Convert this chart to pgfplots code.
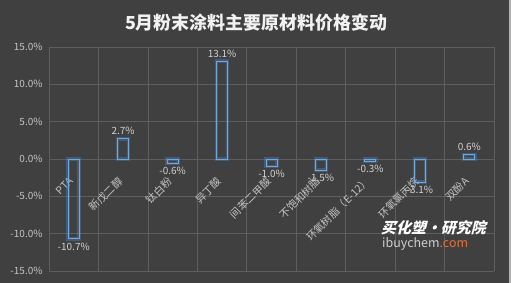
\documentclass[border=0pt]{standalone}
\usepackage{fontspec}
\setmainfont{Noto Sans CJK SC}
\newfontfamily\wmfont{Noto Sans CJK SC}[FakeSlant=0.25]
\usepackage{pgfplots}
\usepackage{pgfplotstable}
\pgfplotsset{compat=1.18}
\definecolor{bgc}{HTML}{404040}
\definecolor{gridc}{HTML}{5E5E5E}
\definecolor{barblue}{HTML}{6FA8DC}
\definecolor{glowblue}{HTML}{4A90D9}
\definecolor{txtc}{HTML}{D0D0D0}
\definecolor{tickc}{HTML}{C4C4C4}
\definecolor{titlec}{HTML}{F2F2F2}
\definecolor{orangec}{HTML}{E8703A}
\pgfplotstableread{
x y
0 -10.7
1 2.7
2 -0.6
3 13.1
4 -1.0
5 -1.5
6 -0.3
7 -3.1
8 0.6
}\data
\begin{document}
\begin{tikzpicture}
\fill[bgc] (0,0) rectangle (511bp,283bp);
\fill[gray!60] (508.5bp,0) rectangle (511bp,283bp);
\begin{axis}[
  at={(49bp,12bp)}, anchor=south west,
  scale only axis, width=445bp, height=224bp,
  xmin=-0.5, xmax=8.5, ymin=-15, ymax=15,
  ytick={-15,-10,...,15},
  xtick={0,...,8},
  minor xtick={-0.5,0.5,...,8.5},
  xticklabels={PTA,新戊二醇,钛白粉,异丁酸,间苯二甲酸,不饱和树脂,环氧树脂（E-12）,环氧氯丙烷,双酚A},
  ymajorgrids, xminorgrids,
  grid style={draw=gridc, line width=0.6bp},
  minor grid style={draw=gridc, line width=0.6bp},
  axis line style={draw=none},
  major tick length=0pt, minor tick length=0pt,
  /pgf/number format/assume math mode=true,
  yticklabel={\pgfmathprintnumber[fixed,fixed zerofill,precision=1]{\tick}\%},
  yticklabel style={font=\fontsize{10}{12}\selectfont, text=tickc, xshift=-3bp},
  xticklabel style={font=\fontsize{10.5}{12}\selectfont, text=tickc, rotate=45, anchor=east},
  xticklabel shift=-94bp,
  ybar, bar width=11bp, bar shift=0pt,
  point meta=y,
  clip=false,
]
\addplot[draw=glowblue, draw opacity=0.35, line width=3.5bp, fill=none] table[x=x,y=y]{\data};
\addplot[draw=barblue, line width=0.9bp, fill=none,
  nodes near coords={\pgfmathprintnumber[fixed,fixed zerofill,precision=1,assume math mode=true]{\pgfplotspointmeta}\%},
  nodes near coords style={font=\fontsize{10}{12}\selectfont, text=txtc}] table[x=x,y=y]{\data};
\end{axis}
\node[text=titlec, font=\fontsize{18}{21}\selectfont\bfseries] at (256bp,260bp) {5月粉末涂料主要原材料价格变动};
\node[text=white, font=\fontsize{15}{18}\selectfont\wmfont\bfseries, anchor=west, inner sep=0pt] at (381bp,55bp) {买化塑·研究院};
\node[font=\fontsize{12.5}{15}\selectfont, anchor=west, inner sep=0pt] at (382bp,39bp) {\textcolor{txtc}{ibuychem}\textcolor{orangec}{.com}};
\pgfresetboundingbox
\path (0,0) rectangle (511bp,283bp);
\end{tikzpicture}
\end{document}
